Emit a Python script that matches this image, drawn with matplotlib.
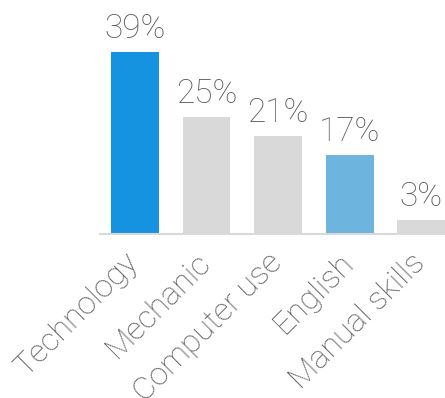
import matplotlib
matplotlib.use("Agg")
import matplotlib.pyplot as plt
import matplotlib.transforms as mtransforms

categories = ["Technology", "Mechanic", "Computer use", "English", "Manual skills"]
values = [39, 25, 21, 17, 3]
bar_colors = ["#1592E0", "#D9D9D9", "#D9D9D9", "#6DB4DE", "#D9D9D9"]

plt.rcParams["font.family"] = ["Roboto", "DejaVu Sans"]
text_color = "#595959"

fig = plt.figure(figsize=(4.45, 3.98), dpi=100)
ax = fig.add_axes([100 / 445, 164 / 398, 345 / 445, 234 / 398])

x = range(len(categories))
ax.bar(x, values, width=0.667, color=bar_colors, zorder=2)

for xi, v in zip(x, values):
    ax.annotate(f"{v}%", (xi, v), xytext=(0, 5), textcoords="offset points",
                ha="center", va="bottom", fontsize=24, fontweight="light",
                color=text_color)

ax.set_xlim(-0.486, 4.33)
ax.set_ylim(0, 50.1)
ax.set_xticks(list(x))
ax.set_xticklabels(categories, rotation=45, ha="right", rotation_mode="anchor",
                   fontsize=23, fontweight="light", color=text_color)
ax.tick_params(axis="x", length=0, pad=10)
shift = mtransforms.ScaledTranslation(-0.11, 0, fig.dpi_scale_trans)
for lbl in ax.get_xticklabels():
    lbl.set_transform(lbl.get_transform() + shift)
ax.set_yticks([])
for side in ["top", "right", "left"]:
    ax.spines[side].set_visible(False)
ax.spines["bottom"].set_color("#D9D9D9")
ax.spines["bottom"].set_linewidth(1.5)

fig.savefig("out.png", dpi=100)
